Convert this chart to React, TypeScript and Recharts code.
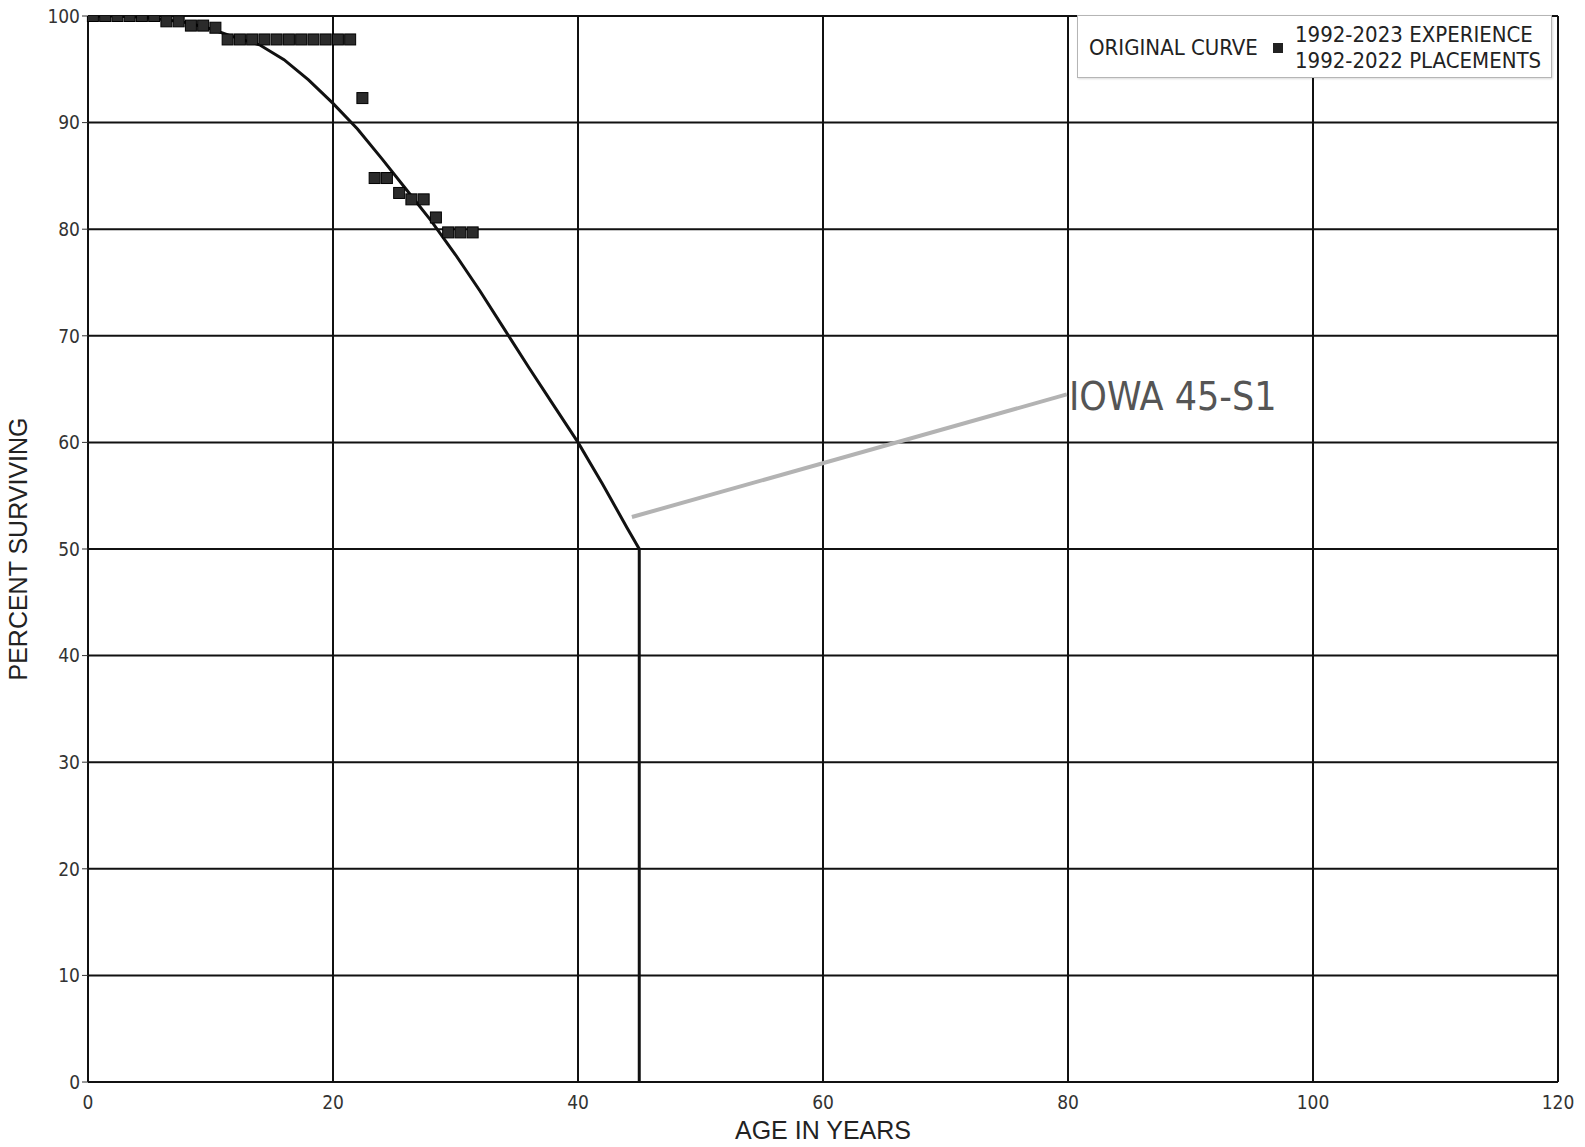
import React from 'react';
import { ComposedChart, Line, Scatter, XAxis, YAxis, CartesianGrid, ReferenceLine } from 'recharts';

// original curve (Iowa 45-S1), truncated at age 45
const curveAges = [0, 2, 4, 6, 8, 10, 12, 14, 16, 18, 20, 22, 24, 26, 28, 30, 32, 34, 36, 38, 40, 42, 44, 45, 45];
const curvePct = [100, 100, 99.9, 99.7, 99.4, 98.8, 98.0, 97.3, 95.9, 94.0, 91.8, 89.4, 86.6, 83.7, 80.8, 77.6, 74.2, 70.6, 67.0, 63.5, 60, 56.1, 52.0, 50, 0];

// observed life table points
const obsAges = [0.4, 1.4, 2.4, 3.4, 4.4, 5.4, 6.4, 7.4, 8.4, 9.4, 10.4, 11.4, 12.4, 13.4, 14.4, 15.4, 16.4, 17.4, 18.4, 19.4, 20.4, 21.4, 22.4, 23.4, 24.4, 25.4, 26.4, 27.4, 28.4, 29.4, 30.4, 31.4];
const obsPct = [100, 100, 100, 100, 100, 100, 99.5, 99.5, 99.1, 99.1, 98.9, 97.8, 97.8, 97.8, 97.8, 97.8, 97.8, 97.8, 97.8, 97.8, 97.8, 97.8, 92.3, 84.8, 84.8, 83.4, 82.8, 82.8, 81.1, 79.7, 79.7, 79.7];

const xTicks = [0, 20, 40, 60, 80, 100, 120];
const yTicks = [0, 10, 20, 30, 40, 50, 60, 70, 80, 90, 100];

const curveData = curveAges.map((age, i) => ({ age, pct: curvePct[i] }));
const obsData = obsAges.map((age, i) => ({ age, pct: obsPct[i] }));

const tahoma = "'DejaVu Sans Condensed', 'DejaVu Sans', sans-serif";
const arial = "'Liberation Sans', Arial, sans-serif";

const Square = (props: any) => {
  const { cx, cy } = props;
  if (cx == null || cy == null) return null;
  return <rect x={cx - 5.5} y={cy - 5.5} width={11} height={11} fill="#2b2b2b" stroke="#000" strokeWidth={1} />;
};

const LegendBox = () => (
  <div
    style={{
      position: 'absolute',
      left: 1077,
      top: 15,
      width: 475,
      height: 63,
      boxSizing: 'border-box',
      background: '#fff',
      border: '1px solid #b5b5b5',
      boxShadow: '1px 1px 2px rgba(0,0,0,0.15)',
      fontFamily: tahoma,
      fontSize: 22,
      color: '#222',
    }}
  >
    <span style={{ position: 'absolute', left: 11, top: 20, lineHeight: '24px', whiteSpace: 'nowrap' }}>ORIGINAL CURVE</span>
    <span style={{ position: 'absolute', left: 195, top: 27, width: 10, height: 10, background: '#222' }} />
    <span style={{ position: 'absolute', left: 217, top: 6, lineHeight: '26px', whiteSpace: 'nowrap' }}>
      1992-2023 EXPERIENCE
      <br />
      1992-2022 PLACEMENTS
    </span>
  </div>
);

export default function App() {
  return (
    <div style={{ position: 'absolute', left: 0, top: 0, width: 1585, height: 1147, background: '#fff' }}>
      <ComposedChart width={1585} height={1147} margin={{ top: 16, right: 27, left: 0, bottom: 0 }}>
        <CartesianGrid stroke="#111" strokeWidth={2} horizontalValues={yTicks} verticalValues={xTicks} />
        <XAxis
          type="number"
          dataKey="age"
          domain={[0, 120]}
          ticks={xTicks}
          interval={0}
          height={65}
          axisLine={{ stroke: '#111', strokeWidth: 2 }}
          tickLine={false}
          tickMargin={8}
          tick={{ fill: '#333', fontSize: 19, fontFamily: tahoma }}
          label={{ value: 'AGE IN YEARS', position: 'insideBottom', offset: 8, fill: '#222', fontSize: 25, fontFamily: arial }}
        />
        <YAxis
          type="number"
          dataKey="pct"
          domain={[0, 100]}
          allowDataOverflow
          ticks={yTicks}
          interval={0}
          width={88}
          axisLine={{ stroke: '#111', strokeWidth: 2 }}
          tickSize={6}
          tickMargin={2}
          tickLine={{ stroke: '#333' }}
          tick={{ fill: '#333', fontSize: 19, fontFamily: tahoma }}
          label={{
            value: 'PERCENT SURVIVING',
            angle: -90,
            position: 'insideLeft',
            offset: 18,
            style: { textAnchor: 'middle' },
            fill: '#222',
            fontSize: 25,
            fontFamily: arial,
          }}
        />
        <ReferenceLine
          segment={[{ x: 44.4, y: 53 }, { x: 79.9, y: 64.5 }]}
          stroke="#b3b3b3"
          strokeWidth={4}
          ifOverflow="visible"
        />
        <Line
          data={curveData}
          dataKey="pct"
          type="linear"
          stroke="#111"
          strokeWidth={3}
          dot={false}
          isAnimationActive={false}
          name="ORIGINAL CURVE"
        />
        <Scatter data={obsData} dataKey="pct" shape={Square} isAnimationActive={false} name="1992-2023 EXPERIENCE" />
      </ComposedChart>
      <LegendBox />
      <div
        style={{
          position: 'absolute',
          left: 1069,
          top: 376,
          fontFamily: tahoma,
          fontSize: 39,
          color: '#555',
          lineHeight: '42px',
          whiteSpace: 'nowrap',
        }}
      >
        IOWA 45-S1
      </div>
    </div>
  );
}
